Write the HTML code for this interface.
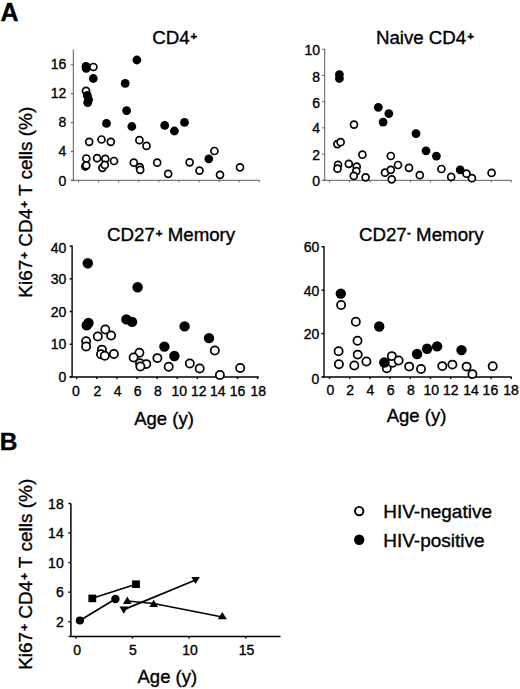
<!DOCTYPE html><html><head><meta charset="utf-8"><style>html,body{margin:0;padding:0;background:#fff;}svg{display:block;}text{font-family:"Liberation Sans",sans-serif;fill:#000;stroke:#000;stroke-width:0.35px;}</style></head><body>
<svg width="520" height="689" viewBox="0 0 520 689">
<rect width="520" height="689" fill="#fff"/>
<text x="0.4" y="20.8" font-size="25" text-anchor="start" font-weight="bold" >A</text>
<text x="-0.2" y="450.3" font-size="24.5" text-anchor="start" font-weight="bold" >B</text>
<text x="152.2" y="44.0" font-size="18.7" text-anchor="start" font-weight="normal" >CD4<tspan font-size="11.5" font-weight="bold" dx="1.0" dy="-3.7">+</tspan><tspan dy="3.7">​</tspan></text>
<text x="375.9" y="44.0" font-size="18.7" text-anchor="start" font-weight="normal" >Naive CD4<tspan font-size="11.5" font-weight="bold" dx="1.0" dy="-3.7">+</tspan><tspan dy="3.7">​</tspan></text>
<text x="107.0" y="241.1" font-size="18.7" text-anchor="start" font-weight="normal" >CD27<tspan font-size="11.5" font-weight="bold" dx="1.0" dy="-3.7">+</tspan><tspan dy="3.7">​</tspan> Memory</text>
<text x="358.9" y="241.1" font-size="18.7" text-anchor="start" font-weight="normal" >CD27<tspan font-size="11.5" font-weight="bold" dx="0.4" dy="-4.9">-</tspan><tspan dy="4.9">​</tspan> Memory</text>
<text transform="translate(31.8,202.2) rotate(-90)" font-size="19" text-anchor="middle">Ki67<tspan font-size="11.5" font-weight="bold" dx="1.0" dy="-3.7">+</tspan><tspan dy="3.7">​</tspan> CD4<tspan font-size="11.5" font-weight="bold" dx="1.0" dy="-3.7">+</tspan><tspan dy="3.7">​</tspan> T cells (%)</text>
<text transform="translate(31.6,574.3) rotate(-90)" font-size="19" text-anchor="middle">Ki67<tspan font-size="11.5" font-weight="bold" dx="1.0" dy="-3.7">+</tspan><tspan dy="3.7">​</tspan> CD4<tspan font-size="11.5" font-weight="bold" dx="1.0" dy="-3.7">+</tspan><tspan dy="3.7">​</tspan> T cells (%)</text>
<line x1="73.3" y1="49.5" x2="73.3" y2="180.3" stroke="#5a5a5a" stroke-width="1"/>
<line x1="70.8" y1="64.82800000000002" x2="73.3" y2="64.82800000000002" stroke="#5a5a5a" stroke-width="1"/>
<text x="66.4" y="69.41" font-size="14" text-anchor="end" font-weight="normal" >16</text>
<line x1="70.8" y1="93.69600000000001" x2="73.3" y2="93.69600000000001" stroke="#5a5a5a" stroke-width="1"/>
<text x="66.4" y="97.86" font-size="14" text-anchor="end" font-weight="normal" >12</text>
<line x1="70.8" y1="122.56400000000002" x2="73.3" y2="122.56400000000002" stroke="#5a5a5a" stroke-width="1"/>
<text x="66.4" y="127.41" font-size="14" text-anchor="end" font-weight="normal" >8</text>
<line x1="70.8" y1="151.43200000000002" x2="73.3" y2="151.43200000000002" stroke="#5a5a5a" stroke-width="1"/>
<text x="66.4" y="156.21" font-size="14" text-anchor="end" font-weight="normal" >4</text>
<line x1="70.8" y1="180.3" x2="73.3" y2="180.3" stroke="#5a5a5a" stroke-width="1"/>
<text x="66.4" y="185.56" font-size="14" text-anchor="end" font-weight="normal" >0</text>
<line x1="71" y1="180.3" x2="259.5" y2="180.3" stroke="#5a5a5a" stroke-width="1"/>
<line x1="78.5" y1="180.3" x2="78.5" y2="182.3" stroke="#5a5a5a" stroke-width="1"/>
<line x1="98.59" y1="180.3" x2="98.59" y2="182.3" stroke="#5a5a5a" stroke-width="1"/>
<line x1="118.68" y1="180.3" x2="118.68" y2="182.3" stroke="#5a5a5a" stroke-width="1"/>
<line x1="138.76999999999998" y1="180.3" x2="138.76999999999998" y2="182.3" stroke="#5a5a5a" stroke-width="1"/>
<line x1="158.86" y1="180.3" x2="158.86" y2="182.3" stroke="#5a5a5a" stroke-width="1"/>
<line x1="178.95" y1="180.3" x2="178.95" y2="182.3" stroke="#5a5a5a" stroke-width="1"/>
<line x1="199.04" y1="180.3" x2="199.04" y2="182.3" stroke="#5a5a5a" stroke-width="1"/>
<line x1="219.13" y1="180.3" x2="219.13" y2="182.3" stroke="#5a5a5a" stroke-width="1"/>
<line x1="239.22" y1="180.3" x2="239.22" y2="182.3" stroke="#5a5a5a" stroke-width="1"/>
<line x1="259.31" y1="180.3" x2="259.31" y2="182.3" stroke="#5a5a5a" stroke-width="1"/>
<line x1="324.7" y1="49.0" x2="324.7" y2="180.3" stroke="#5a5a5a" stroke-width="1"/>
<line x1="322.2" y1="49.20000000000002" x2="324.7" y2="49.20000000000002" stroke="#5a5a5a" stroke-width="1"/>
<text x="320.1" y="55.41" font-size="14" text-anchor="end" font-weight="normal" >10</text>
<line x1="322.2" y1="75.42000000000002" x2="324.7" y2="75.42000000000002" stroke="#5a5a5a" stroke-width="1"/>
<text x="320.1" y="82.01" font-size="14" text-anchor="end" font-weight="normal" >8</text>
<line x1="322.2" y1="101.64000000000001" x2="324.7" y2="101.64000000000001" stroke="#5a5a5a" stroke-width="1"/>
<text x="320.1" y="108.41" font-size="14" text-anchor="end" font-weight="normal" >6</text>
<line x1="322.2" y1="127.86000000000001" x2="324.7" y2="127.86000000000001" stroke="#5a5a5a" stroke-width="1"/>
<text x="320.1" y="133.31" font-size="14" text-anchor="end" font-weight="normal" >4</text>
<line x1="322.2" y1="154.08" x2="324.7" y2="154.08" stroke="#5a5a5a" stroke-width="1"/>
<text x="320.1" y="160.01" font-size="14" text-anchor="end" font-weight="normal" >2</text>
<line x1="322.2" y1="180.3" x2="324.7" y2="180.3" stroke="#5a5a5a" stroke-width="1"/>
<text x="320.1" y="185.91" font-size="14" text-anchor="end" font-weight="normal" >0</text>
<line x1="322.5" y1="180.3" x2="511.4" y2="180.3" stroke="#5a5a5a" stroke-width="1"/>
<line x1="329.5" y1="180.3" x2="329.5" y2="182.3" stroke="#5a5a5a" stroke-width="1"/>
<line x1="349.7" y1="180.3" x2="349.7" y2="182.3" stroke="#5a5a5a" stroke-width="1"/>
<line x1="369.9" y1="180.3" x2="369.9" y2="182.3" stroke="#5a5a5a" stroke-width="1"/>
<line x1="390.1" y1="180.3" x2="390.1" y2="182.3" stroke="#5a5a5a" stroke-width="1"/>
<line x1="410.3" y1="180.3" x2="410.3" y2="182.3" stroke="#5a5a5a" stroke-width="1"/>
<line x1="430.5" y1="180.3" x2="430.5" y2="182.3" stroke="#5a5a5a" stroke-width="1"/>
<line x1="450.7" y1="180.3" x2="450.7" y2="182.3" stroke="#5a5a5a" stroke-width="1"/>
<line x1="470.9" y1="180.3" x2="470.9" y2="182.3" stroke="#5a5a5a" stroke-width="1"/>
<line x1="491.1" y1="180.3" x2="491.1" y2="182.3" stroke="#5a5a5a" stroke-width="1"/>
<line x1="511.29999999999995" y1="180.3" x2="511.29999999999995" y2="182.3" stroke="#5a5a5a" stroke-width="1"/>
<line x1="72.1" y1="245.5" x2="72.1" y2="377.0" stroke="#000" stroke-width="1.4"/>
<line x1="69.6" y1="246.07999999999998" x2="72.1" y2="246.07999999999998" stroke="#000" stroke-width="1.4"/>
<text x="66.3" y="252.51" font-size="14" text-anchor="end" font-weight="normal" >40</text>
<line x1="69.6" y1="278.81" x2="72.1" y2="278.81" stroke="#000" stroke-width="1.4"/>
<text x="66.3" y="284.41" font-size="14" text-anchor="end" font-weight="normal" >30</text>
<line x1="69.6" y1="311.53999999999996" x2="72.1" y2="311.53999999999996" stroke="#000" stroke-width="1.4"/>
<text x="66.3" y="316.81" font-size="14" text-anchor="end" font-weight="normal" >20</text>
<line x1="69.6" y1="344.27" x2="72.1" y2="344.27" stroke="#000" stroke-width="1.4"/>
<text x="66.3" y="349.21" font-size="14" text-anchor="end" font-weight="normal" >10</text>
<line x1="69.6" y1="377.0" x2="72.1" y2="377.0" stroke="#000" stroke-width="1.4"/>
<text x="66.3" y="382.31" font-size="14" text-anchor="end" font-weight="normal" >0</text>
<line x1="69.8" y1="377.0" x2="258.8" y2="377.0" stroke="#000" stroke-width="1.4"/>
<line x1="76.7" y1="377.0" x2="76.7" y2="379.0" stroke="#000" stroke-width="1.4"/>
<line x1="96.80000000000001" y1="377.0" x2="96.80000000000001" y2="379.0" stroke="#000" stroke-width="1.4"/>
<line x1="116.9" y1="377.0" x2="116.9" y2="379.0" stroke="#000" stroke-width="1.4"/>
<line x1="137.0" y1="377.0" x2="137.0" y2="379.0" stroke="#000" stroke-width="1.4"/>
<line x1="157.10000000000002" y1="377.0" x2="157.10000000000002" y2="379.0" stroke="#000" stroke-width="1.4"/>
<line x1="177.2" y1="377.0" x2="177.2" y2="379.0" stroke="#000" stroke-width="1.4"/>
<line x1="197.3" y1="377.0" x2="197.3" y2="379.0" stroke="#000" stroke-width="1.4"/>
<line x1="217.40000000000003" y1="377.0" x2="217.40000000000003" y2="379.0" stroke="#000" stroke-width="1.4"/>
<line x1="237.5" y1="377.0" x2="237.5" y2="379.0" stroke="#000" stroke-width="1.4"/>
<line x1="257.6" y1="377.0" x2="257.6" y2="379.0" stroke="#000" stroke-width="1.4"/>
<text x="76" y="395.51" font-size="14" text-anchor="middle" font-weight="normal" >0</text>
<text x="97.3" y="395.51" font-size="14" text-anchor="middle" font-weight="normal" >2</text>
<text x="117.6" y="395.51" font-size="14" text-anchor="middle" font-weight="normal" >4</text>
<text x="137.6" y="395.51" font-size="14" text-anchor="middle" font-weight="normal" >6</text>
<text x="158" y="395.51" font-size="14" text-anchor="middle" font-weight="normal" >8</text>
<text x="179.2" y="395.51" font-size="14" text-anchor="middle" font-weight="normal" >10</text>
<text x="198.7" y="395.51" font-size="14" text-anchor="middle" font-weight="normal" >12</text>
<text x="217.8" y="395.51" font-size="14" text-anchor="middle" font-weight="normal" >14</text>
<text x="237.5" y="395.51" font-size="14" text-anchor="middle" font-weight="normal" >16</text>
<text x="258.2" y="395.51" font-size="14" text-anchor="middle" font-weight="normal" >18</text>
<line x1="324.0" y1="246.0" x2="324.0" y2="377.0" stroke="#000" stroke-width="1.4"/>
<line x1="321.5" y1="246.8" x2="324.0" y2="246.8" stroke="#000" stroke-width="1.4"/>
<text x="319.4" y="252.46" font-size="14" text-anchor="end" font-weight="normal" >60</text>
<line x1="321.5" y1="290.2" x2="324.0" y2="290.2" stroke="#000" stroke-width="1.4"/>
<text x="319.4" y="295.71" font-size="14" text-anchor="end" font-weight="normal" >40</text>
<line x1="321.5" y1="333.6" x2="324.0" y2="333.6" stroke="#000" stroke-width="1.4"/>
<text x="319.4" y="338.61" font-size="14" text-anchor="end" font-weight="normal" >20</text>
<line x1="321.5" y1="377.0" x2="324.0" y2="377.0" stroke="#000" stroke-width="1.4"/>
<text x="319.4" y="383.51" font-size="14" text-anchor="end" font-weight="normal" >0</text>
<line x1="322.3" y1="377.0" x2="511.6" y2="377.0" stroke="#000" stroke-width="1.4"/>
<line x1="329.5" y1="377.0" x2="329.5" y2="379.0" stroke="#000" stroke-width="1.4"/>
<line x1="349.7" y1="377.0" x2="349.7" y2="379.0" stroke="#000" stroke-width="1.4"/>
<line x1="369.9" y1="377.0" x2="369.9" y2="379.0" stroke="#000" stroke-width="1.4"/>
<line x1="390.1" y1="377.0" x2="390.1" y2="379.0" stroke="#000" stroke-width="1.4"/>
<line x1="410.3" y1="377.0" x2="410.3" y2="379.0" stroke="#000" stroke-width="1.4"/>
<line x1="430.5" y1="377.0" x2="430.5" y2="379.0" stroke="#000" stroke-width="1.4"/>
<line x1="450.7" y1="377.0" x2="450.7" y2="379.0" stroke="#000" stroke-width="1.4"/>
<line x1="470.9" y1="377.0" x2="470.9" y2="379.0" stroke="#000" stroke-width="1.4"/>
<line x1="491.1" y1="377.0" x2="491.1" y2="379.0" stroke="#000" stroke-width="1.4"/>
<line x1="511.29999999999995" y1="377.0" x2="511.29999999999995" y2="379.0" stroke="#000" stroke-width="1.4"/>
<text x="330.3" y="395.21" font-size="14" text-anchor="middle" font-weight="normal" >0</text>
<text x="350.1" y="395.21" font-size="14" text-anchor="middle" font-weight="normal" >2</text>
<text x="370.4" y="395.21" font-size="14" text-anchor="middle" font-weight="normal" >4</text>
<text x="390.7" y="395.21" font-size="14" text-anchor="middle" font-weight="normal" >6</text>
<text x="410.9" y="395.21" font-size="14" text-anchor="middle" font-weight="normal" >8</text>
<text x="431.3" y="395.21" font-size="14" text-anchor="middle" font-weight="normal" >10</text>
<text x="450.7" y="395.21" font-size="14" text-anchor="middle" font-weight="normal" >12</text>
<text x="471.1" y="395.21" font-size="14" text-anchor="middle" font-weight="normal" >14</text>
<text x="490.4" y="395.21" font-size="14" text-anchor="middle" font-weight="normal" >16</text>
<text x="511.0" y="395.21" font-size="14" text-anchor="middle" font-weight="normal" >18</text>
<text x="134.2" y="424.6" font-size="18.5" text-anchor="start" font-weight="normal" >Age (y)</text>
<text x="386.7" y="421.6" font-size="18.5" text-anchor="start" font-weight="normal" >Age (y)</text>
<text x="137.5" y="682.5" font-size="18.5" text-anchor="start" font-weight="normal" >Age (y)</text>
<ellipse cx="86.0" cy="90.8" rx="3.50" ry="3.50" fill="#fff" stroke="#000" stroke-width="1.7"/>
<ellipse cx="89.2" cy="141.8" rx="3.50" ry="3.50" fill="#fff" stroke="#000" stroke-width="1.7"/>
<ellipse cx="101.5" cy="139.5" rx="3.50" ry="3.50" fill="#fff" stroke="#000" stroke-width="1.7"/>
<ellipse cx="110.8" cy="141.8" rx="3.50" ry="3.50" fill="#fff" stroke="#000" stroke-width="1.7"/>
<ellipse cx="139.4" cy="140.2" rx="3.50" ry="3.50" fill="#fff" stroke="#000" stroke-width="1.7"/>
<ellipse cx="146.5" cy="145.9" rx="3.50" ry="3.50" fill="#fff" stroke="#000" stroke-width="1.7"/>
<ellipse cx="86.3" cy="158.5" rx="3.50" ry="3.50" fill="#fff" stroke="#000" stroke-width="1.7"/>
<ellipse cx="85.3" cy="166.3" rx="3.50" ry="3.50" fill="#fff" stroke="#000" stroke-width="1.7"/>
<ellipse cx="86.3" cy="165.3" rx="3.50" ry="3.50" fill="#fff" stroke="#000" stroke-width="1.7"/>
<ellipse cx="97.1" cy="158.2" rx="3.50" ry="3.50" fill="#fff" stroke="#000" stroke-width="1.7"/>
<ellipse cx="102.4" cy="167.8" rx="3.50" ry="3.50" fill="#fff" stroke="#000" stroke-width="1.7"/>
<ellipse cx="105.3" cy="158.8" rx="3.50" ry="3.50" fill="#fff" stroke="#000" stroke-width="1.7"/>
<ellipse cx="104.8" cy="164.9" rx="3.50" ry="3.50" fill="#fff" stroke="#000" stroke-width="1.7"/>
<ellipse cx="114" cy="161" rx="3.50" ry="3.50" fill="#fff" stroke="#000" stroke-width="1.7"/>
<ellipse cx="133.8" cy="162.7" rx="3.50" ry="3.50" fill="#fff" stroke="#000" stroke-width="1.7"/>
<ellipse cx="139.8" cy="167.2" rx="3.50" ry="3.50" fill="#fff" stroke="#000" stroke-width="1.7"/>
<ellipse cx="140.2" cy="169.8" rx="3.50" ry="3.50" fill="#fff" stroke="#000" stroke-width="1.7"/>
<ellipse cx="157.2" cy="162.7" rx="3.50" ry="3.50" fill="#fff" stroke="#000" stroke-width="1.7"/>
<ellipse cx="168.2" cy="173.8" rx="3.50" ry="3.50" fill="#fff" stroke="#000" stroke-width="1.7"/>
<ellipse cx="189.6" cy="162.3" rx="3.50" ry="3.50" fill="#fff" stroke="#000" stroke-width="1.7"/>
<ellipse cx="199.5" cy="170.6" rx="3.50" ry="3.50" fill="#fff" stroke="#000" stroke-width="1.7"/>
<ellipse cx="214.4" cy="151" rx="3.50" ry="3.50" fill="#fff" stroke="#000" stroke-width="1.7"/>
<ellipse cx="220" cy="174.8" rx="3.50" ry="3.50" fill="#fff" stroke="#000" stroke-width="1.7"/>
<ellipse cx="240" cy="167.3" rx="3.50" ry="3.50" fill="#fff" stroke="#000" stroke-width="1.7"/>
<circle cx="136.9" cy="60" r="4.4" fill="#000"/>
<circle cx="86.0" cy="66.3" r="4.4" fill="#000"/>
<circle cx="86.2" cy="68.4" r="4.4" fill="#000"/>
<circle cx="93.3" cy="78.5" r="4.4" fill="#000"/>
<circle cx="125.2" cy="83.4" r="4.4" fill="#000"/>
<circle cx="87.3" cy="95.4" r="4.4" fill="#000"/>
<circle cx="88.6" cy="99.6" r="4.4" fill="#000"/>
<circle cx="87.7" cy="102.6" r="4.4" fill="#000"/>
<circle cx="126.6" cy="110.6" r="4.4" fill="#000"/>
<circle cx="106.5" cy="123.4" r="4.4" fill="#000"/>
<circle cx="131.8" cy="126.5" r="4.4" fill="#000"/>
<circle cx="164.7" cy="125.4" r="4.4" fill="#000"/>
<circle cx="174.4" cy="131" r="4.4" fill="#000"/>
<circle cx="184.5" cy="122.4" r="4.4" fill="#000"/>
<circle cx="208.8" cy="158.8" r="4.4" fill="#000"/>
<ellipse cx="93.4" cy="67" rx="3.50" ry="3.50" fill="#fff" stroke="#000" stroke-width="1.7"/>
<ellipse cx="354" cy="124.6" rx="3.50" ry="3.50" fill="#fff" stroke="#000" stroke-width="1.7"/>
<ellipse cx="337.4" cy="144.1" rx="3.50" ry="3.50" fill="#fff" stroke="#000" stroke-width="1.7"/>
<ellipse cx="340.6" cy="142.2" rx="3.50" ry="3.50" fill="#fff" stroke="#000" stroke-width="1.7"/>
<ellipse cx="362.4" cy="154.7" rx="3.50" ry="3.50" fill="#fff" stroke="#000" stroke-width="1.7"/>
<ellipse cx="390.8" cy="156" rx="3.50" ry="3.50" fill="#fff" stroke="#000" stroke-width="1.7"/>
<ellipse cx="338" cy="164.8" rx="3.50" ry="3.50" fill="#fff" stroke="#000" stroke-width="1.7"/>
<ellipse cx="337.5" cy="168.7" rx="3.50" ry="3.50" fill="#fff" stroke="#000" stroke-width="1.7"/>
<ellipse cx="348.8" cy="163.8" rx="3.50" ry="3.50" fill="#fff" stroke="#000" stroke-width="1.7"/>
<ellipse cx="356.7" cy="166.7" rx="3.50" ry="3.50" fill="#fff" stroke="#000" stroke-width="1.7"/>
<ellipse cx="356.3" cy="171.1" rx="3.50" ry="3.50" fill="#fff" stroke="#000" stroke-width="1.7"/>
<ellipse cx="353.8" cy="175.9" rx="3.50" ry="3.50" fill="#fff" stroke="#000" stroke-width="1.7"/>
<ellipse cx="365.6" cy="177.3" rx="3.50" ry="3.50" fill="#fff" stroke="#000" stroke-width="1.7"/>
<ellipse cx="385" cy="172.7" rx="3.50" ry="3.50" fill="#fff" stroke="#000" stroke-width="1.7"/>
<ellipse cx="390.8" cy="169.8" rx="3.50" ry="3.50" fill="#fff" stroke="#000" stroke-width="1.7"/>
<ellipse cx="391.7" cy="179.3" rx="3.50" ry="3.50" fill="#fff" stroke="#000" stroke-width="1.7"/>
<ellipse cx="398" cy="165" rx="3.50" ry="3.50" fill="#fff" stroke="#000" stroke-width="1.7"/>
<ellipse cx="409" cy="167.8" rx="3.50" ry="3.50" fill="#fff" stroke="#000" stroke-width="1.7"/>
<ellipse cx="419.8" cy="175.2" rx="3.50" ry="3.50" fill="#fff" stroke="#000" stroke-width="1.7"/>
<ellipse cx="441.4" cy="169" rx="3.50" ry="3.50" fill="#fff" stroke="#000" stroke-width="1.7"/>
<ellipse cx="451.2" cy="176.9" rx="3.50" ry="3.50" fill="#fff" stroke="#000" stroke-width="1.7"/>
<ellipse cx="471.9" cy="178.2" rx="3.50" ry="3.50" fill="#fff" stroke="#000" stroke-width="1.7"/>
<ellipse cx="491.6" cy="172.9" rx="3.50" ry="3.50" fill="#fff" stroke="#000" stroke-width="1.7"/>
<circle cx="339.4" cy="74.6" r="4.4" fill="#000"/>
<circle cx="339.4" cy="78.5" r="4.4" fill="#000"/>
<circle cx="378.3" cy="107.3" r="4.4" fill="#000"/>
<circle cx="388.8" cy="113.6" r="4.4" fill="#000"/>
<circle cx="383.1" cy="122.1" r="4.4" fill="#000"/>
<circle cx="416" cy="133.7" r="4.4" fill="#000"/>
<circle cx="426" cy="150.8" r="4.4" fill="#000"/>
<circle cx="436.4" cy="156.1" r="4.4" fill="#000"/>
<circle cx="460.2" cy="169.9" r="4.4" fill="#000"/>
<ellipse cx="466.5" cy="173.7" rx="3.50" ry="3.50" fill="#fff" stroke="#000" stroke-width="1.7"/>
<ellipse cx="97.8" cy="336.4" rx="4.10" ry="4.10" fill="#fff" stroke="#000" stroke-width="1.75"/>
<ellipse cx="111.1" cy="335.5" rx="4.10" ry="4.10" fill="#fff" stroke="#000" stroke-width="1.75"/>
<ellipse cx="105.3" cy="329.4" rx="4.10" ry="4.10" fill="#fff" stroke="#000" stroke-width="1.75"/>
<ellipse cx="86.1" cy="341.3" rx="4.10" ry="4.10" fill="#fff" stroke="#000" stroke-width="1.75"/>
<ellipse cx="86.1" cy="346.5" rx="4.10" ry="4.10" fill="#fff" stroke="#000" stroke-width="1.75"/>
<ellipse cx="101.9" cy="349.6" rx="4.10" ry="4.10" fill="#fff" stroke="#000" stroke-width="1.75"/>
<ellipse cx="101" cy="354.2" rx="4.10" ry="4.10" fill="#fff" stroke="#000" stroke-width="1.75"/>
<ellipse cx="104.8" cy="355.7" rx="4.10" ry="4.10" fill="#fff" stroke="#000" stroke-width="1.75"/>
<ellipse cx="113.9" cy="353.9" rx="4.10" ry="4.10" fill="#fff" stroke="#000" stroke-width="1.75"/>
<ellipse cx="139.4" cy="352.7" rx="4.10" ry="4.10" fill="#fff" stroke="#000" stroke-width="1.75"/>
<ellipse cx="133.6" cy="357.5" rx="4.10" ry="4.10" fill="#fff" stroke="#000" stroke-width="1.75"/>
<ellipse cx="140" cy="363.3" rx="4.10" ry="4.10" fill="#fff" stroke="#000" stroke-width="1.75"/>
<ellipse cx="146.3" cy="364.1" rx="4.10" ry="4.10" fill="#fff" stroke="#000" stroke-width="1.75"/>
<ellipse cx="140.4" cy="366.5" rx="4.10" ry="4.10" fill="#fff" stroke="#000" stroke-width="1.75"/>
<ellipse cx="157.4" cy="358.1" rx="4.10" ry="4.10" fill="#fff" stroke="#000" stroke-width="1.75"/>
<ellipse cx="168.7" cy="366.8" rx="4.10" ry="4.10" fill="#fff" stroke="#000" stroke-width="1.75"/>
<ellipse cx="189.8" cy="363.4" rx="4.10" ry="4.10" fill="#fff" stroke="#000" stroke-width="1.75"/>
<ellipse cx="199.7" cy="368.4" rx="4.10" ry="4.10" fill="#fff" stroke="#000" stroke-width="1.75"/>
<ellipse cx="214.8" cy="350.5" rx="4.10" ry="4.10" fill="#fff" stroke="#000" stroke-width="1.75"/>
<ellipse cx="219.9" cy="375" rx="4.10" ry="4.10" fill="#fff" stroke="#000" stroke-width="1.75"/>
<ellipse cx="240.2" cy="368" rx="4.10" ry="4.10" fill="#fff" stroke="#000" stroke-width="1.75"/>
<circle cx="87.8" cy="263.3" r="5.2" fill="#000"/>
<circle cx="137.6" cy="287.2" r="5.2" fill="#000"/>
<circle cx="86.7" cy="325.4" r="5.2" fill="#000"/>
<circle cx="88.5" cy="323" r="5.2" fill="#000"/>
<circle cx="126.4" cy="319.4" r="5.2" fill="#000"/>
<circle cx="132.1" cy="321.9" r="5.2" fill="#000"/>
<circle cx="184.6" cy="326.4" r="5.2" fill="#000"/>
<circle cx="209" cy="338.1" r="5.2" fill="#000"/>
<circle cx="164.4" cy="346.6" r="5.2" fill="#000"/>
<circle cx="174.4" cy="356" r="5.2" fill="#000"/>
<ellipse cx="341.1" cy="305" rx="4.10" ry="4.10" fill="#fff" stroke="#000" stroke-width="1.75"/>
<ellipse cx="355.8" cy="321.7" rx="4.10" ry="4.10" fill="#fff" stroke="#000" stroke-width="1.75"/>
<ellipse cx="357.5" cy="340.7" rx="4.10" ry="4.10" fill="#fff" stroke="#000" stroke-width="1.75"/>
<ellipse cx="338.6" cy="351.3" rx="4.10" ry="4.10" fill="#fff" stroke="#000" stroke-width="1.75"/>
<ellipse cx="357.7" cy="354.6" rx="4.10" ry="4.10" fill="#fff" stroke="#000" stroke-width="1.75"/>
<ellipse cx="338.9" cy="364.3" rx="4.10" ry="4.10" fill="#fff" stroke="#000" stroke-width="1.75"/>
<ellipse cx="354.3" cy="365.5" rx="4.10" ry="4.10" fill="#fff" stroke="#000" stroke-width="1.75"/>
<ellipse cx="366.4" cy="361.5" rx="4.10" ry="4.10" fill="#fff" stroke="#000" stroke-width="1.75"/>
<ellipse cx="386.8" cy="368.2" rx="4.10" ry="4.10" fill="#fff" stroke="#000" stroke-width="1.75"/>
<ellipse cx="392.5" cy="362.7" rx="4.10" ry="4.10" fill="#fff" stroke="#000" stroke-width="1.75"/>
<ellipse cx="409.2" cy="366.6" rx="4.10" ry="4.10" fill="#fff" stroke="#000" stroke-width="1.75"/>
<ellipse cx="421" cy="369" rx="4.10" ry="4.10" fill="#fff" stroke="#000" stroke-width="1.75"/>
<ellipse cx="442.3" cy="366.1" rx="4.10" ry="4.10" fill="#fff" stroke="#000" stroke-width="1.75"/>
<ellipse cx="452.4" cy="364.6" rx="4.10" ry="4.10" fill="#fff" stroke="#000" stroke-width="1.75"/>
<ellipse cx="466.6" cy="366.6" rx="4.10" ry="4.10" fill="#fff" stroke="#000" stroke-width="1.75"/>
<ellipse cx="472.4" cy="374.1" rx="4.10" ry="4.10" fill="#fff" stroke="#000" stroke-width="1.75"/>
<ellipse cx="492.7" cy="366.3" rx="4.10" ry="4.10" fill="#fff" stroke="#000" stroke-width="1.75"/>
<circle cx="340.8" cy="293.6" r="5.2" fill="#000"/>
<circle cx="379.2" cy="326.5" r="5.2" fill="#000"/>
<circle cx="384.3" cy="362.5" r="5.2" fill="#000"/>
<circle cx="417.1" cy="354" r="5.2" fill="#000"/>
<circle cx="427.1" cy="348.7" r="5.2" fill="#000"/>
<circle cx="437.1" cy="346.4" r="5.2" fill="#000"/>
<circle cx="461.5" cy="350.1" r="5.2" fill="#000"/>
<ellipse cx="391.8" cy="356.1" rx="4.10" ry="4.10" fill="#fff" stroke="#000" stroke-width="1.75"/>
<ellipse cx="398.6" cy="360.4" rx="4.10" ry="4.10" fill="#fff" stroke="#000" stroke-width="1.75"/>
<line x1="70.9" y1="503.6" x2="70.9" y2="636.5" stroke="#000" stroke-width="1.5"/>
<line x1="68.4" y1="503.48" x2="70.9" y2="503.48" stroke="#000" stroke-width="1.5"/>
<text x="63.7" y="509.21" font-size="14" text-anchor="end" font-weight="normal" >18</text>
<line x1="68.4" y1="533.04" x2="70.9" y2="533.04" stroke="#000" stroke-width="1.5"/>
<text x="63.7" y="538.01" font-size="14" text-anchor="end" font-weight="normal" >14</text>
<line x1="68.4" y1="562.6" x2="70.9" y2="562.6" stroke="#000" stroke-width="1.5"/>
<text x="63.7" y="567.81" font-size="14" text-anchor="end" font-weight="normal" >10</text>
<line x1="68.4" y1="592.16" x2="70.9" y2="592.16" stroke="#000" stroke-width="1.5"/>
<text x="63.7" y="597.41" font-size="14" text-anchor="end" font-weight="normal" >6</text>
<line x1="68.4" y1="621.72" x2="70.9" y2="621.72" stroke="#000" stroke-width="1.5"/>
<text x="63.7" y="626.91" font-size="14" text-anchor="end" font-weight="normal" >2</text>
<line x1="68.7" y1="636.5" x2="280.5" y2="636.5" stroke="#000" stroke-width="1.5"/>
<line x1="75.8" y1="636.5" x2="75.8" y2="638.5" stroke="#000" stroke-width="1.5"/>
<line x1="132.45" y1="636.5" x2="132.45" y2="638.5" stroke="#000" stroke-width="1.5"/>
<line x1="189.1" y1="636.5" x2="189.1" y2="638.5" stroke="#000" stroke-width="1.5"/>
<line x1="245.75" y1="636.5" x2="245.75" y2="638.5" stroke="#000" stroke-width="1.5"/>
<text x="77.1" y="655.21" font-size="14" text-anchor="middle" font-weight="normal" >0</text>
<text x="132.9" y="655.21" font-size="14" text-anchor="middle" font-weight="normal" >5</text>
<text x="190.1" y="655.21" font-size="14" text-anchor="middle" font-weight="normal" >10</text>
<text x="246.6" y="655.21" font-size="14" text-anchor="middle" font-weight="normal" >15</text>
<polyline points="79.9,620.5 115.4,599" fill="none" stroke="#000" stroke-width="1.7"/>
<polyline points="92.3,598.3 136,584.2" fill="none" stroke="#000" stroke-width="1.7"/>
<polyline points="123.8,609.6 195.6,580" fill="none" stroke="#000" stroke-width="1.7"/>
<polyline points="127.3,601 153.7,603.5 222.4,617" fill="none" stroke="#000" stroke-width="1.7"/>
<circle cx="79.9" cy="620.5" r="4.1" fill="#000"/>
<circle cx="115.4" cy="599" r="4.2" fill="#000"/>
<rect x="88.4" y="594.6" width="7.8" height="7.6" fill="#000"/>
<rect x="132.1" y="580.4" width="7.8" height="7.6" fill="#000"/>
<polygon points="123.00,603.90 131.60,603.90 127.30,596.50" fill="#000"/>
<polygon points="149.30,607.10 158.10,607.10 153.70,599.70" fill="#000"/>
<polygon points="217.70,619.30 226.90,619.30 222.30,612.10" fill="#000"/>
<polygon points="119.40,606.40 128.20,606.40 123.80,613.80" fill="#000"/>
<polygon points="191.30,577.00 199.90,577.00 195.60,584.00" fill="#000"/>
<ellipse cx="359.2" cy="511.1" rx="4.20" ry="4.20" fill="#fff" stroke="#000" stroke-width="1.9"/>
<circle cx="359.2" cy="539.7" r="5.2" fill="#000"/>
<text x="383.2" y="518.4" font-size="19" text-anchor="start" font-weight="normal" >HIV-negative</text>
<text x="383.2" y="547.1" font-size="19" text-anchor="start" font-weight="normal" >HIV-positive</text>
</svg></body></html>
